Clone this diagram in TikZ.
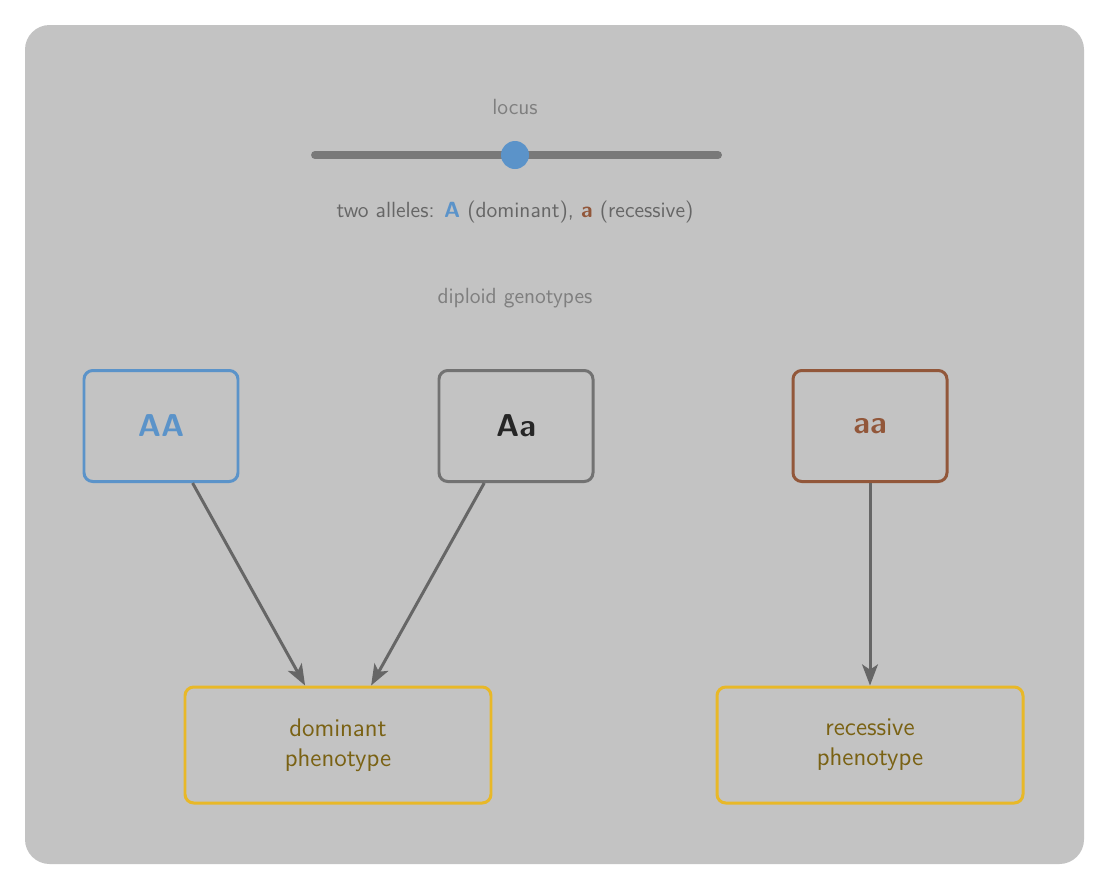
\documentclass[tikz,border=0pt]{standalone}
\usetikzlibrary{arrows.meta}
\begin{document}
\sffamily
\begin{tikzpicture}[x=0.02cm,y=-0.02cm,
  geno/.style={draw,rounded corners=5pt,line width=1.7pt,minimum width=154*0.02cm,minimum height=111*0.02cm,font=\fontsize{18}{20}\selectfont\bfseries},
  pheno/.style={draw=yel,rounded corners=5pt,line width=1.7pt,minimum width=306*0.02cm,minimum height=116*0.02cm,text=olive!60!black,font=\fontsize{14.5}{17}\selectfont,align=center,text=phtext},
  arr/.style={draw=arrc,line width=1.7pt,-{Stealth[length=12pt,width=9pt,inset=3pt]}},
  lab/.style={font=\fontsize{12.5}{14}\selectfont}]
\definecolor{bg}{HTML}{C3C3C3}
\definecolor{blu}{HTML}{5B93C9}
\definecolor{brn}{HTML}{92573A}
\definecolor{yel}{HTML}{E8B828}
\definecolor{phtext}{HTML}{7A6214}
\definecolor{arrc}{HTML}{666666}
\definecolor{gtxt}{HTML}{7F7F7F}
\useasboundingbox (0,0) rectangle (1109,890);
\fill[bg,rounded corners=14pt] (25,25) rectangle (1084,864);
\coordinate (l1) at (315,155); \coordinate (l2) at (718,155);
\draw[gtxt!95!black,line width=4.5pt,line cap=round] (l1) -- (l2);
\node[circle,fill=blu,minimum size=28*0.02cm,inner sep=0] (dot) at (515,155) {};
\node[lab,text=gtxt] (locus) at (515,107) {locus};
\node[lab,text=arrc] (alle) at (515,212) {two alleles: \textcolor{blu}{\bfseries A} (dominant), \textcolor{brn}{\bfseries a} (recessive)};
\node[lab,text=gtxt] (dip) at (515,298) {diploid genotypes};
\node[geno,draw=blu,text=blu] (AA) at (161,426) {AA};
\node[geno,draw=gtxt!90!black,text=black!85] (Aa) at (516,426) {Aa};
\node[geno,draw=brn,text=brn] (aa) at (870,426) {aa};
\node[pheno] (dom) at (338,745) {dominant\\phenotype};
\node[pheno] (rec) at (870,745) {recessive\\phenotype};
\draw[arr] (AA) -- (dom);
\draw[arr] (Aa) -- (dom);
\draw[arr] (aa) -- (rec);
\end{tikzpicture}
\end{document}
